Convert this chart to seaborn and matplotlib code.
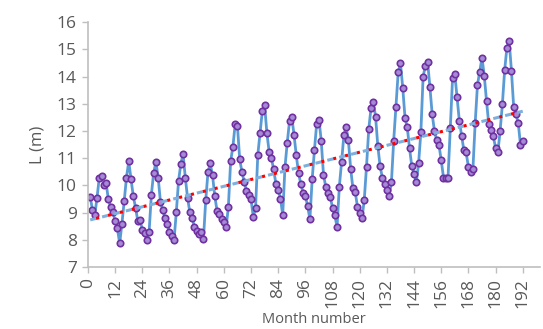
import numpy as np
import pandas as pd
import matplotlib
matplotlib.use('Agg')
import matplotlib.pyplot as plt
import seaborn as sns

# monthly L values (months 1..192)
months = list(range(1, 193))
L_m = [9.58, 9.09, 8.91, 9.55, 10.29, 10.34, 10.02, 10.10, 9.49, 9.21, 9.03, 8.69,
       8.42, 7.87, 8.60, 9.42, 10.29, 10.88, 10.24, 9.61, 9.19, 8.70, 8.73, 8.38,
       8.24, 7.99, 8.30, 9.66, 10.46, 10.86, 10.29, 9.40, 9.09, 8.81, 8.57, 8.30,
       8.14, 7.99, 9.01, 10.17, 10.79, 11.16, 10.27, 9.53, 9.01, 8.81, 8.48, 8.33,
       8.21, 8.28, 8.03, 9.46, 10.49, 10.81, 10.37, 9.61, 9.07, 8.95, 8.75, 8.66,
       8.46, 9.21, 10.89, 11.42, 12.25, 12.20, 10.96, 10.50, 10.13, 9.80, 9.66, 9.49,
       8.85, 9.16, 11.13, 11.93, 12.74, 12.96, 11.93, 11.24, 11.00, 10.59, 10.05, 9.83,
       9.52, 8.92, 10.68, 11.57, 12.36, 12.52, 11.85, 11.10, 10.45, 10.05, 9.74, 9.61,
       9.25, 8.75, 10.22, 11.29, 12.27, 12.42, 11.65, 10.40, 9.95, 9.73, 9.58, 9.18,
       8.90, 8.48, 9.96, 10.87, 11.84, 12.15, 11.66, 10.62, 9.89, 9.77, 9.22, 9.00,
       8.79, 9.46, 10.69, 12.08, 12.84, 13.07, 12.53, 11.44, 10.71, 10.28, 10.05, 9.85,
       9.61, 10.11, 11.64, 12.89, 14.16, 14.48, 13.59, 12.49, 12.13, 11.36, 10.71, 10.42,
       10.11, 10.81, 11.95, 13.99, 14.40, 14.52, 13.61, 12.62, 12.00, 11.66, 11.48, 10.92,
       10.29, 10.29, 10.29, 12.12, 13.93, 14.08, 13.23, 12.37, 11.82, 11.29, 11.21, 10.68,
       10.48, 10.62, 12.31, 13.69, 14.18, 14.69, 14.03, 13.10, 12.24, 12.02, 11.80, 11.38,
       11.21, 12.00, 12.98, 14.23, 15.06, 15.30, 14.21, 12.87, 12.61, 12.30, 11.48, 11.64]

x_ticks = list(range(0, 193, 12))

df = pd.DataFrame({'Month': months, 'L': L_m})

# linear trend
slope, icpt = np.polyfit(df.Month, df.L, 1)
df['trend'] = icpt + slope * df.Month

sns.set_style('white')
plt.rcParams['font.family'] = ['Open Sans', 'DejaVu Sans']

fig = plt.figure(figsize=(5.43, 3.29), dpi=100)
ax = fig.add_axes([0.162, 0.188, 0.832, 0.745])

sns.lineplot(data=df, x='Month', y='L', ax=ax, color='#5b9bd5', linewidth=2.0,
             marker='o', markersize=4.6, markerfacecolor='#a58bd6',
             markeredgecolor='#7030a0', markeredgewidth=1.2, zorder=2)

# two overlapping trend lines
ax.plot(df.Month, df.trend, color='#7fb0dd', linewidth=2.2, linestyle=(0, (2, 2)), zorder=3)
ax.plot(df.Month, df.trend, color='#ff0000', linewidth=2.2, linestyle=(2, (1, 3)), zorder=3)

ax.set_xlim(0, 199.5)
ax.set_ylim(7, 16)
ax.set_xticks(x_ticks)
ax.set_xticklabels([str(t) for t in x_ticks], rotation=90)
ax.set_yticks(range(7, 17))

ax.set_xlabel('Month number', color='#595959', fontsize=10.5, labelpad=3)
ax.set_ylabel('L (m)', color='#595959', fontsize=12, labelpad=8)
ax.tick_params(axis='both', colors='#595959', labelsize=12.5, length=4, width=1,
               direction='out', color='#bfbfbf', pad=4)
ax.tick_params(axis='x', bottom=True)
ax.tick_params(axis='y', left=True)

sns.despine(ax=ax)
for sp in ['left', 'bottom']:
    ax.spines[sp].set_color('#bfbfbf')
    ax.spines[sp].set_linewidth(1.2)
ax.grid(False)

fig.savefig('out.png', dpi=100)
